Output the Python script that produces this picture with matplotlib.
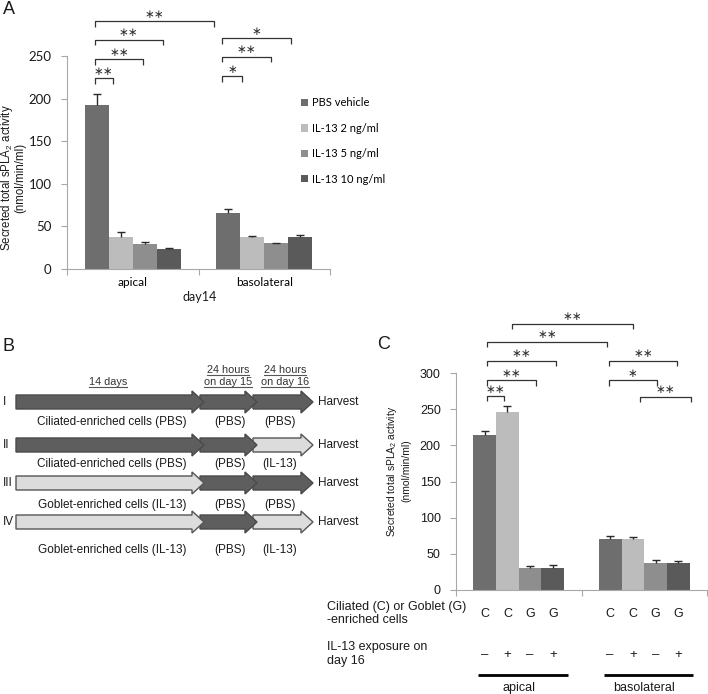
import matplotlib
matplotlib.use("Agg")
import matplotlib.pyplot as plt
import numpy as np
from matplotlib.patches import Polygon
from matplotlib.transforms import blended_transform_factory

plt.rcParams['font.family'] = ['Liberation Sans', 'DejaVu Sans']
plt.rcParams['mathtext.fontset'] = 'custom'
plt.rcParams['mathtext.rm'] = 'Liberation Sans'

# ---- panel A data ----
a_groups = ['apical', 'basolateral']
a_series = ['PBS vehicle', 'IL-13 2 ng/ml', 'IL-13 5 ng/ml', 'IL-13 10 ng/ml']
a_means = [[192, 66], [38, 37], [29, 30], [23, 38]]
a_err = [[13, 4], [5, 2], [3, 1], [2, 2]]
# significance brackets: x1, x2 (axis units), height, label
a_sig = [(0.21, 1.12, 291, '∗∗'), (0.21, 0.73, 269, '∗∗'), (0.21, 0.58, 246, '∗∗'),
         (0.21, 0.35, 224, '∗∗'), (1.18, 1.70, 271, '∗'), (1.18, 1.55, 249, '∗∗'),
         (1.18, 1.33, 226, '∗')]

# ---- panel B data ----
b_rows = ['I', 'II', 'III', 'IV']
b_fill = [['d', 'd', 'd'], ['d', 'd', 'l'], ['l', 'd', 'd'], ['l', 'd', 'l']]
b_cells = ['Ciliated-enriched cells (PBS)', 'Ciliated-enriched cells (PBS)',
           'Goblet-enriched cells (IL-13)', 'Goblet-enriched cells (IL-13)']
b_day15 = ['(PBS)', '(PBS)', '(PBS)', '(PBS)']
b_day16 = ['(PBS)', '(IL-13)', '(PBS)', '(IL-13)']

# ---- panel C data ----
c_groups = ['apical', 'basolateral']
c_cells = ['C', 'C', 'G', 'G']
c_il13 = ['–', '+', '–', '+']
c_means = [[214, 71], [246, 70], [30, 38], [31, 37]]
c_err = [[6, 4], [9, 3], [3, 4], [4, 3]]
c_sig = [(0.45, 1.41, 368, '∗∗'), (0.25, 1.20, 343, '∗∗'), (0.25, 0.80, 317, '∗∗'),
         (0.25, 0.64, 290, '∗∗'), (0.25, 0.38, 268, '∗∗'), (1.22, 1.76, 317, '∗∗'),
         (1.22, 1.60, 290, '∗'), (1.47, 1.87, 267, '∗∗')]

bar_colors = ['#6e6e6e', '#bcbcbc', '#8e8e8e', '#5a5a5a']
axis_grey = '#a8a8a8'
ink = '#1a1a1a'

W, H = 708, 694
fig = plt.figure(figsize=(W / 100, H / 100), dpi=100)


def rect(x0, y0, x1, y1):
    return [x0 / W, 1 - y1 / H, (x1 - x0) / W, (y1 - y0) / H]


ov = fig.add_axes([0, 0, 1, 1])
ov.set_xlim(0, W)
ov.set_ylim(H, 0)
ov.axis('off')


def style_axes(ax, ymax, step, tickfont, tsize):
    ax.set_xlim(0, 2)
    ax.set_ylim(0, ymax)
    for s in ['top', 'right']:
        ax.spines[s].set_visible(False)
    for s in ['left', 'bottom']:
        ax.spines[s].set_color(axis_grey)
    ax.set_yticks(np.arange(0, ymax + 1, step))
    ax.set_xticks([0, 1, 2])
    ax.set_xticklabels([])
    ax.tick_params(axis='both', length=4, color=axis_grey, labelcolor=ink)
    ax.tick_params(axis='y', pad=7, labelsize=tsize)
    for lab in ax.get_yticklabels():
        lab.set_family(tickfont)


def draw_bars(ax, means, errs, width):
    offs = (np.arange(4) - 1.5) * width
    centers = np.arange(2) + 0.5
    handles = []
    for i in range(4):
        xs = centers + offs[i]
        top = np.array(means[i]) + np.array(errs[i])
        h = ax.bar(xs, means[i], width, color=bar_colors[i], zorder=2)
        # one-sided (upper) error bars
        ax.vlines(xs, means[i], top, color='#2a2a2a', lw=1, zorder=3)
        ax.plot(xs, top, ls='none', marker='_', ms=6, mew=1, color='#2a2a2a', zorder=3)
        handles.append(h)
    return handles, centers, offs


def bracket(ax, x1, x2, y, label, h):
    ax.plot([x1, x1, x2, x2], [y - h, y, y, y - h], color='#333333', lw=0.9,
            clip_on=False, solid_capstyle='butt')
    ax.annotate(label, ((x1 + x2) / 2, y), xytext=(0, 5), textcoords='offset points',
                ha='center', va='center', fontsize=8.5, color='#333333',
                family='DejaVu Sans', annotation_clip=False)


# ---------- A ----------
ax_a = fig.add_axes(rect(67, 56, 330, 269))
style_axes(ax_a, 250, 50, 'Lato', 9.5)
hand, _, _ = draw_bars(ax_a, a_means, a_err, 0.182)
ax_a.set_xticks([0.5, 1.5], minor=True)
ax_a.set_xticklabels(a_groups, minor=True, fontsize=8.5, family='Lato')
ax_a.tick_params(axis='x', which='minor', length=0, pad=6)
for x1, x2, y, s in a_sig:
    bracket(ax_a, x1, x2, y, s, 6.5)
ax_a.legend(hand, a_series, loc='upper left', bbox_to_anchor=(297 / W, 1 - 93 / H),
            bbox_transform=fig.transFigure, frameon=False,
            prop={'family': 'Lato', 'size': 8}, handlelength=0.6, handleheight=0.6,
            handletextpad=0.35, labelspacing=1.3, borderaxespad=0)
ov.text(200, 297, 'day14', ha='center', va='center', fontsize=9, family='Lato', color=ink)
ov.text(12.5, 178, 'Secreted total sPLA$_\\mathregular{2}$ activity\n(nmol/min/ml)',
        rotation=90, ha='center', va='center', fontsize=8.3, linespacing=0.95, color=ink)
ov.text(3, 1, 'A', ha='left', va='top', fontsize=13, color=ink)

# ---------- B ----------
ov.text(3, 338, 'B', ha='left', va='top', fontsize=13, color=ink)
row_y = [402, 445, 483, 522]
text_y = [422, 464, 505, 550]
seg_tail = [16, 200, 253]
seg_tip = [204, 257, 313]
fills = {'d': ('#5e5e5e', '#4a4a4a'), 'l': ('#dcdcdc', '#555555')}
for r, yc in enumerate(row_y):
    for k in [2, 1, 0]:
        x0, xt = seg_tail[k], seg_tip[k]
        hx = xt - 12
        pts = [(x0, yc - 7), (hx, yc - 7), (hx, yc - 11), (xt, yc), (hx, yc + 11),
               (hx, yc + 7), (x0, yc + 7)]
        fc, ec = fills[b_fill[r][k]]
        ov.add_patch(Polygon(pts, closed=True, fc=fc, ec=ec, lw=1, zorder=5 + (3 - k)))
    ov.text(3, yc, b_rows[r], ha='left', va='center', fontsize=8.5, color=ink)
    ov.text(318, yc, 'Harvest', ha='left', va='center', fontsize=8.5, color=ink)
    ty = text_y[r]
    ov.text(112, ty, b_cells[r], ha='center', va='center', fontsize=8.5, color=ink)
    ov.text(230, ty, b_day15[r], ha='center', va='center', fontsize=8.5, color=ink)
    ov.text(280, ty, b_day16[r], ha='center', va='center', fontsize=8.5, color=ink)

headers = [(108, 382, '14 days'), (228, 370, '24 hours'), (228, 382, 'on day 15'),
           (285, 370, '24 hours'), (285, 382, 'on day 16')]
head_txt = [ov.text(x, y, s, ha='center', va='center', fontsize=7.8, color='#333333')
            for x, y, s in headers]

# ---------- C ----------
ax_c = fig.add_axes(rect(456, 373, 707, 590))
style_axes(ax_c, 300, 50, 'Liberation Sans', 9)
_, cen, offs = draw_bars(ax_c, c_means, c_err, 0.181)
for x1, x2, y, s in c_sig:
    bracket(ax_c, x1, x2, y, s, 7.3)
ov.text(377, 336, 'C', ha='left', va='top', fontsize=13, color=ink)
ov.text(398, 471, 'Secreted total sPLA$_\\mathregular{2}$ activity\n(nmol/min/ml)',
        rotation=90, ha='center', va='center', fontsize=7.4, linespacing=1.3, color=ink)

bt = blended_transform_factory(ax_c.transData, ov.transData)
for g, c in enumerate(cen):
    for i in range(4):
        ov.text(c + offs[i], 614, c_cells[i], transform=bt, ha='center', va='center',
                fontsize=9, color=ink)
        ov.text(c + offs[i], 655, c_il13[i], transform=bt, ha='center', va='center',
                fontsize=9.5, color=ink)
    half = 2 * 0.181
    ov.plot([c - half + 0.04, c + half + 0.03], [675, 675], color='black', lw=2,
            transform=bt, solid_capstyle='butt')
    ov.text(c, 688, c_groups[g], transform=bt, ha='center', va='center',
            fontsize=9, color=ink)
ov.text(327, 607, 'Ciliated (C) or Goblet (G)', ha='left', va='center', fontsize=9, color=ink)
ov.text(327, 620, '-enriched cells', ha='left', va='center', fontsize=9, color=ink)
ov.text(327, 647, 'IL-13 exposure on', ha='left', va='center', fontsize=9, color=ink)
ov.text(327, 661, 'day 16', ha='left', va='center', fontsize=9, color=ink)

# underline the time headers of panel B
fig.canvas.draw()
rend = fig.canvas.get_renderer()
inv = ov.transData.inverted()
for t in head_txt:
    bb = t.get_window_extent(rend)
    (x0, y0) = inv.transform((bb.x0, bb.y0))
    (x1, _) = inv.transform((bb.x1, bb.y0))
    ov.plot([x0, x1], [y0 - 0.5, y0 - 0.5], color='#555555', lw=0.8)

fig.savefig('out.png', dpi=100)
